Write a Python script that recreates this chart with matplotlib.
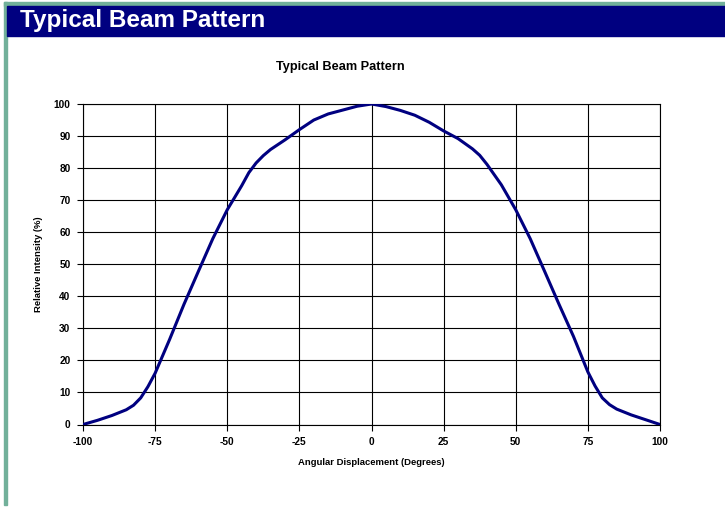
import matplotlib.pyplot as plt
from matplotlib.patches import Rectangle

plt.rcParams['font.family'] = ['Liberation Sans', 'DejaVu Sans']
plt.rcParams['axes.unicode_minus'] = False

# angle (degrees) and relative intensity (%)
angles = [-100, -95, -90, -85, -82.5, -80, -77.5, -75, -70, -65, -60, -55, -50,
          -45, -42.5, -40, -37.5, -35, -30, -25, -20, -15, -10, -5, 0,
          5, 10, 15, 20, 25, 30, 35, 37.5, 40, 42.5, 45, 50, 55, 60, 65, 70,
          75, 77.5, 80, 82.5, 85, 90, 95, 100]
intensity = [0, 1.3, 2.8, 4.6, 6.0, 8.3, 11.8, 16, 26.5, 37.5, 47.8, 58, 67,
             74.5, 78.6, 81.6, 83.9, 85.8, 88.8, 92, 95, 96.9, 98.1, 99.3, 100,
             99.2, 98, 96.5, 94.3, 91.6, 89.2, 86, 84, 81.2, 78, 74.8, 67, 58,
             47.8, 37.5, 27.5, 16.4, 12, 8.3, 6.2, 4.8, 3.0, 1.5, 0]

x_ticks = [-100, -75, -50, -25, 0, 25, 50, 75, 100]
y_ticks = [0, 10, 20, 30, 40, 50, 60, 70, 80, 90, 100]

fig = plt.figure(figsize=(7.25, 5.09), dpi=100)
W, H = 725, 509

# slide-style header and border
fig.patches.append(Rectangle((4 / W, 1 - 6 / H), 1, 4 / H, transform=fig.transFigure,
                             color='#72B09A', zorder=0))
fig.patches.append(Rectangle((4 / W, 1 - 505 / H), 3 / W, 503 / H, transform=fig.transFigure,
                             color='#72B09A', zorder=0))
fig.patches.append(Rectangle((7 / W, 1 - 35.5 / H), 1, 29.5 / H, transform=fig.transFigure,
                             color='#000080', zorder=0))
fig.text(20 / W, 1 - 21 / H, 'Typical Beam Pattern', color='white', fontsize=17.5,
         fontweight='bold', va='center', ha='left')

ax = fig.add_axes([83 / W, 1 - 424.5 / H, (660 - 83) / W, (424.5 - 104) / H])
ax.plot(angles, intensity, color='#000080', lw=2.2, solid_capstyle='round',
        solid_joinstyle='round', zorder=3)

ax.set_xlim(-100, 100)
ax.set_ylim(0, 100)
ax.set_xticks(x_ticks)
ax.set_yticks(y_ticks)
ax.grid(True, color='black', lw=0.8)
ax.set_axisbelow(True)
for s in ax.spines.values():
    s.set_color('black')
    s.set_linewidth(0.8)
ax.tick_params(direction='out', length=4, width=0.8, labelsize=7.3, pad=5)
for lab in ax.get_xticklabels() + ax.get_yticklabels():
    lab.set_fontweight('bold')

fig.text(340 / W, 1 - 67 / H, 'Typical Beam Pattern', fontsize=9.2, fontweight='bold',
         ha='center', va='center')
ax.set_xlabel('Angular Displacement (Degrees)', fontsize=6.8, fontweight='bold', labelpad=8)
ax.set_ylabel('Relative Intensity (%)', fontsize=6.8, fontweight='bold', labelpad=8)

plt.savefig('out.png', dpi=100)
